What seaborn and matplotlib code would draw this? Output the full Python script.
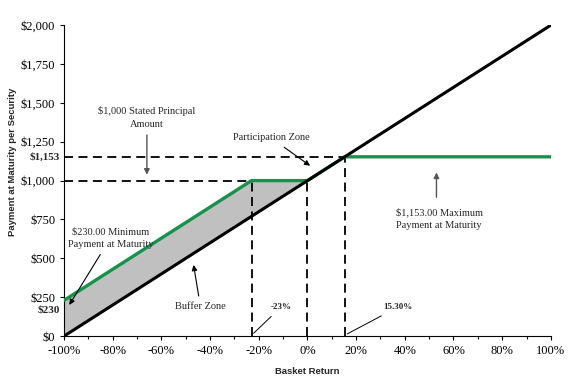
import matplotlib
matplotlib.use("Agg")
import matplotlib.pyplot as plt
import seaborn as sns
import pandas as pd
from matplotlib.ticker import MultipleLocator, FuncFormatter

sns.set_theme(style="white")
plt.rcParams['font.family'] = 'Liberation Serif'

# Payoff data (basket return in %, payment in $)
note_return = [-100, -23, 0, 15.3, 100]
note_payment = [230, 1000, 1000, 1153, 1153]
basket_return = [-100, 100]
basket_payment = [0, 2000]
buffer_x = [-100, -23, 0]
buffer_upper = [230, 1000, 1000]
buffer_lower = [0, 770, 1000]

y_ticks = [0, 250, 500, 750, 1000, 1250, 1500, 1750, 2000]
x_ticks = [-100, -80, -60, -40, -20, 0, 20, 40, 60, 80, 100]

green = "#17924b"

fig = plt.figure(figsize=(5.78, 3.81), dpi=100)
ax = fig.add_axes([0.111, 0.118, 0.842, 0.816])

note_df = pd.DataFrame({"ret": note_return, "pay": note_payment})
basket_df = pd.DataFrame({"ret": basket_return, "pay": basket_payment})

ax.fill_between(buffer_x, buffer_lower, buffer_upper, color="#c0c0c0", zorder=1, lw=0)

# dashed reference lines
dash = dict(color="black", lw=1.3, ls=(0, (5, 3)), zorder=2)
ax.plot([-100, -23], [1000, 1000], **dash)
ax.plot([-100, 15.3], [1153, 1153], **dash)
ax.plot([-23, -23], [0, 1000], **dash)
ax.plot([0, 0], [0, 1000], **dash)
ax.plot([15.3, 15.3], [0, 1153], **dash)

sns.lineplot(data=note_df, x="ret", y="pay", color=green, lw=2.4, ax=ax, zorder=3)
sns.lineplot(data=basket_df, x="ret", y="pay", color="black", lw=2.2, ax=ax, zorder=4)

ax.set_xlim(-100, 100)
ax.set_ylim(0, 2000)
ax.set_xticks(x_ticks)
ax.xaxis.set_minor_locator(MultipleLocator(10))
ax.set_yticks(y_ticks)
ax.xaxis.set_major_formatter(FuncFormatter(lambda v, p: f"{v:.0f}%"))
ax.yaxis.set_major_formatter(FuncFormatter(lambda v, p: f"${v:,.0f}"))
ax.tick_params(axis="both", which="both", direction="out", length=3, width=0.8,
               labelsize=9, colors="black", bottom=True, left=True)
ax.tick_params(axis="x", which="minor", length=2)
for s in ["top", "right"]:
    ax.spines[s].set_visible(False)
for s in ["left", "bottom"]:
    ax.spines[s].set_color("black")
    ax.spines[s].set_linewidth(0.8)

ax.set_xlabel("Basket Return", family="Liberation Sans", fontsize=6.8, fontweight="bold")
ax.xaxis.set_label_coords(0.5, -0.1)
ax.set_ylabel("Payment at Maturity per Security", family="Liberation Sans", fontsize=6.8,
              fontweight="bold")
ax.yaxis.set_label_coords(-0.097, 0.56)

# bold special y labels
ax.text(-101.8, 1153, "$1,153", ha="right", va="center", fontsize=8, fontweight="bold")
ax.text(-101.8, 170, "$230", ha="right", va="center", fontsize=8, fontweight="bold")

ann = dict(fontsize=7.5, ha="center", va="center", linespacing=1.5)
arrow_grey = dict(arrowstyle="-|>", color="#555555", lw=1.0, mutation_scale=8)
arrow_black = dict(arrowstyle="-|>", color="black", lw=0.8, mutation_scale=8)
thin = dict(arrowstyle="-", color="black", lw=0.7)

ax.annotate("$1,000 Stated Principal\nAmount", xy=(-66, 1020), xytext=(-66, 1405),
            arrowprops=arrow_grey, **ann)
ax.annotate("Participation Zone", xy=(2, 1085), xytext=(-15, 1275),
            arrowprops=arrow_black, **ann)
ax.text(36.3, 755, "$1,153.00 Maximum\nPayment at Maturity", fontsize=7.5,
        ha="left", va="center", linespacing=1.5)
ax.annotate("", xy=(53, 1070), xytext=(53, 875), arrowprops=arrow_grey)
ax.annotate("$230.00 Minimum\nPayment at Maturity", xy=(-98.5, 185), xytext=(-81, 630),
            arrowprops=arrow_black, **ann)
ax.annotate("Buffer Zone", xy=(-47, 475), xytext=(-44, 190),
            arrowprops=arrow_black, **ann)
ax.annotate("-23%", xy=(-23, 5), xytext=(-11, 185), arrowprops=thin,
            fontsize=6.5, fontweight="bold", ha="center", va="center")
ax.annotate("15.30%", xy=(15.3, 5), xytext=(37, 185), arrowprops=thin,
            fontsize=6.5, fontweight="bold", ha="center", va="center")

fig.savefig("out.png", dpi=100)
